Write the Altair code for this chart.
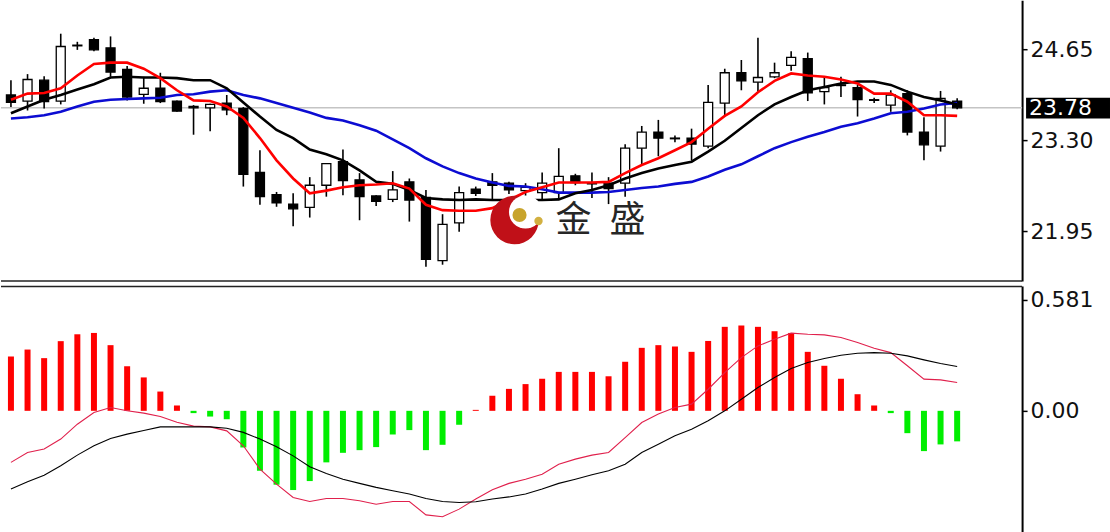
import altair as alt
import pandas as pd

# ---------------- daily candles ----------------
opens = [23.97, 23.88, 24.19, 23.88, 24.71, 24.79, 24.67, 24.35, 23.98, 24.07,
         23.88, 23.80, 23.78, 23.85, 23.77, 22.82, 22.49, 22.35, 22.30, 22.63,
         22.98, 22.71, 22.47, 22.42, 22.68, 22.45, 21.51, 22.07, 22.57, 22.68,
         22.66, 22.55, 22.52, 22.52, 22.77, 22.66, 22.66, 22.66, 23.18, 23.42,
         23.33, 23.33, 23.21, 23.85, 24.30, 24.16, 24.24, 24.41, 24.51, 24.02,
         24.12, 24.08, 23.90, 23.82, 23.99, 23.42, 23.21, 23.88]
highs = [24.19, 24.28, 24.25, 24.88, 24.76, 24.82, 24.84, 24.40, 24.24, 24.30,
         23.89, 23.82, 23.84, 23.97, 23.79, 23.15, 22.53, 22.51, 22.75, 22.96,
         23.16, 22.81, 22.48, 22.84, 22.73, 22.56, 22.20, 22.61, 22.61, 22.81,
         22.68, 22.66, 22.82, 23.18, 22.80, 22.82, 22.75, 23.24, 23.51, 23.60,
         23.37, 23.47, 24.12, 24.36, 24.49, 24.82, 24.45, 24.62, 24.60, 24.24,
         24.24, 24.12, 23.93, 24.04, 24.04, 23.64, 24.03, 23.92]
lows = [23.79, 23.74, 23.77, 23.83, 24.64, 24.62, 24.24, 23.89, 23.84, 23.85,
        23.72, 23.38, 23.43, 23.67, 22.61, 22.34, 22.31, 22.02, 22.15, 22.46,
        22.48, 22.11, 22.32, 22.38, 22.09, 21.42, 21.45, 21.94, 22.47, 22.41,
        22.50, 22.20, 22.41, 22.41, 22.63, 22.44, 22.35, 22.46, 22.94, 23.06,
        23.27, 23.00, 23.18, 23.65, 24.04, 24.02, 24.22, 24.33, 23.88, 23.83,
        23.94, 23.65, 23.85, 23.72, 23.37, 23.00, 23.13, 23.76]
closes = [23.86, 24.20, 23.87, 24.69, 24.70, 24.64, 24.31, 23.94, 24.07, 23.87,
          23.73, 23.78, 23.83, 23.75, 22.79, 22.46, 22.37, 22.28, 22.63, 22.95,
          22.70, 22.46, 22.39, 22.56, 22.41, 21.53, 22.05, 22.52, 22.51, 22.63,
          22.56, 22.60, 22.66, 22.76, 22.67, 22.65, 22.58, 23.18, 23.42, 23.33,
          23.32, 23.24, 23.86, 24.30, 24.18, 24.23, 24.30, 24.53, 24.00, 24.08,
          24.11, 23.90, 23.89, 23.97, 23.42, 23.23, 23.92, 23.78]

# ---------------- moving averages ----------------
ma_fast = [23.90, 23.99, 24.00, 24.07, 24.26, 24.43, 24.45, 24.45, 24.36, 24.22,
           24.04, 23.89, 23.88, 23.80, 23.63, 23.33, 23.00, 22.73, 22.51, 22.55,
           22.60, 22.63, 22.64, 22.66, 22.58, 22.34, 22.26, 22.25, 22.25, 22.29,
           22.41, 22.53, 22.60, 22.67, 22.67, 22.67, 22.68, 22.81, 22.93, 23.03,
           23.15, 23.27, 23.47, 23.66, 23.80, 24.01, 24.18, 24.29, 24.26, 24.24,
           24.20, 24.14, 23.99, 23.99, 23.87, 23.67, 23.67, 23.66]
ma_mid = [23.70, 23.80, 23.90, 23.97, 24.05, 24.13, 24.23, 24.24, 24.23, 24.23,
          24.22, 24.19, 24.19, 24.07, 23.86, 23.65, 23.45, 23.33, 23.16, 23.09,
          23.00, 22.85, 22.68, 22.65, 22.56, 22.44, 22.42, 22.41, 22.42, 22.41,
          22.41, 22.41, 22.41, 22.42, 22.51, 22.56, 22.63, 22.73, 22.81, 22.88,
          22.93, 22.98, 23.13, 23.29, 23.48, 23.67, 23.83, 23.94, 24.04, 24.09,
          24.14, 24.17, 24.17, 24.12, 24.02, 23.94, 23.89, 23.83]
ma_slow = [23.62, 23.64, 23.67, 23.72, 23.80, 23.87, 23.90, 23.91, 23.92, 23.93,
           23.97, 23.98, 24.02, 24.04, 23.97, 23.92, 23.85, 23.78, 23.71, 23.63,
           23.59, 23.52, 23.44, 23.31, 23.18, 23.03, 22.91, 22.81, 22.73, 22.67,
           22.62, 22.61, 22.57, 22.52, 22.52, 22.52, 22.53, 22.56, 22.59, 22.61,
           22.65, 22.68, 22.76, 22.86, 22.94, 23.06, 23.18, 23.27, 23.35, 23.42,
           23.50, 23.55, 23.62, 23.70, 23.72, 23.77, 23.83, 23.85]

# ---------------- MACD ----------------
macd_hist = [0.284, 0.321, 0.276, 0.365, 0.401, 0.408, 0.344, 0.234, 0.175, 0.101,
             0.028, -0.012, -0.030, -0.044, -0.192, -0.314, -0.387, -0.415, -0.368, -0.270,
             -0.220, -0.206, -0.190, -0.124, -0.101, -0.206, -0.178, -0.073, 0.005, 0.079,
             0.115, 0.140, 0.168, 0.204, 0.204, 0.204, 0.181, 0.257, 0.330, 0.344,
             0.337, 0.309, 0.366, 0.440, 0.447, 0.440, 0.417, 0.408, 0.309, 0.236,
             0.168, 0.087, 0.028, -0.012, -0.117, -0.211, -0.176, -0.160]
macd_dif = [-0.270, -0.218, -0.200, -0.148, -0.070, -0.009, 0.017, 0.000, -0.012, -0.030,
            -0.060, -0.080, -0.084, -0.105, -0.183, -0.305, -0.384, -0.454, -0.475, -0.459,
            -0.459, -0.471, -0.489, -0.475, -0.475, -0.545, -0.555, -0.515, -0.462, -0.414,
            -0.380, -0.358, -0.332, -0.280, -0.253, -0.232, -0.218, -0.140, -0.061, -0.017,
            0.017, 0.035, 0.113, 0.200, 0.279, 0.340, 0.375, 0.407, 0.401, 0.398,
            0.384, 0.358, 0.328, 0.305, 0.236, 0.166, 0.162, 0.148]
macd_dea = [-0.410, -0.372, -0.337, -0.288, -0.232, -0.183, -0.145, -0.122, -0.103, -0.084,
            -0.084, -0.084, -0.084, -0.091, -0.113, -0.148, -0.188, -0.236, -0.293, -0.328,
            -0.358, -0.380, -0.401, -0.419, -0.436, -0.459, -0.475, -0.480, -0.476, -0.462,
            -0.451, -0.436, -0.410, -0.380, -0.358, -0.335, -0.314, -0.280, -0.218, -0.175,
            -0.131, -0.096, -0.052, 0.000, 0.061, 0.122, 0.175, 0.222, 0.253, 0.274,
            0.291, 0.302, 0.305, 0.302, 0.288, 0.267, 0.248, 0.232]

price_ticks = [24.65, 23.30, 21.95]
macd_ticks = [0.581, 0.0]
brand = ["金", "盛"]

idx = list(range(len(closes)))
px = pd.DataFrame({"i": idx, "open": opens, "high": highs, "low": lows, "close": closes,
                   "ma_fast": ma_fast, "ma_mid": ma_mid, "ma_slow": ma_slow})
md = pd.DataFrame({"i": idx, "hist": macd_hist, "dif": macd_dif, "dea": macd_dea})
last = pd.DataFrame({"p": [closes[-1]]})

W, H1, H2 = 1022, 281, 248
LABEL_FONT = "DejaVu Sans"
LABEL_SIZE = 22

xs = alt.Scale(domain=[-0.298, 60.61], nice=False, zero=False)
X = alt.X("i:Q", scale=xs, axis=None)
ys = alt.Scale(domain=[21.208, 25.377], nice=False, zero=False)
ms = alt.Scale(domain=[-0.644, 0.654], nice=False, zero=False)


def right_axis(values, expr=None):
    kw = dict(orient="right", values=values, title=None, grid=False,
              domainColor="black", domainWidth=2, tickColor="black", tickSize=5,
              tickWidth=1.5, labelFont=LABEL_FONT, labelFontSize=LABEL_SIZE,
              labelColor="#111111", labelPadding=3, labelBaseline="middle")
    if expr:
        kw["labelExpr"] = expr
    else:
        kw["format"] = ".2f"
    return alt.Axis(**kw)


PAX = right_axis(price_ticks)
MAX = right_axis(macd_ticks, "datum.value == 0 ? '0.00' : format(datum.value, '.3f')")


def py(field):
    return alt.Y(f"{field}:Q", scale=ys, axis=PAX)


def my(field):
    return alt.Y(f"{field}:Q", scale=ms, axis=MAX)


# ---------- price panel ----------
price_line = alt.Chart(last).mark_rule(color="#c4c4c4", strokeWidth=1.5).encode(
    y=py("p"), x=alt.value(0), x2=alt.value(W))

wicks = alt.Chart(px).mark_rule(color="black", strokeWidth=1.6).encode(
    x=X, y=py("low"), y2="high:Q")

bodies = alt.Chart(px).mark_bar(size=9, stroke="black", strokeWidth=1.3).encode(
    x=X, y=py("open"), y2="close:Q",
    fill=alt.condition("datum.close > datum.open", alt.value("white"), alt.value("black")))


def ma(field, color):
    return alt.Chart(px).mark_line(color=color, strokeWidth=2.6).encode(x=X, y=py(field))


# watermark logo
logo_parts = pd.DataFrame({
    "cx": [514, 525, 519, 538],
    "cy": [220, 212, 215, 221],
    "area": [2350, 1100, 200, 70],
    "col": ["#c01018", "#ffffff", "#c8a42c", "#d2b040"],
    "k": [0, 1, 2, 3],
})
logo = alt.Chart(logo_parts).mark_circle(opacity=1).encode(
    x=alt.X("cx:Q", scale=None), y=alt.Y("cy:Q", scale=None),
    size=alt.Size("area:Q", scale=None),
    color=alt.Color("col:N", scale=None), order="k:Q")

brand_df = pd.DataFrame({"t": brand, "cx": [573, 627]})
brand_text = alt.Chart(brand_df).mark_text(
    font="Noto Sans CJK SC", fontSize=36, color="#262626",
    align="center", baseline="middle").encode(
    x=alt.X("cx:Q", scale=None), y=alt.value(221), text="t:N")

sep_top = alt.Chart(last).mark_rule(color="#222222", strokeWidth=1.5).encode(
    x=alt.value(0), x2=alt.value(W), y=alt.value(H1))

box = alt.Chart(last).transform_calculate(
    hi="datum.p + 0.15", lo="datum.p - 0.16").mark_rect(color="black").encode(
    x=alt.value(W + 4), x2=alt.value(1110), y=py("hi"), y2="lo:Q")
box_text = alt.Chart(last).mark_text(
    color="white", font=LABEL_FONT, fontSize=LABEL_SIZE, align="left",
    baseline="middle").encode(
    x=alt.value(W + 7), y=py("p"), text=alt.Text("p:Q", format=".2f"))

top = alt.layer(price_line, wicks, bodies, ma("ma_slow", "#0c0cd2"),
                ma("ma_mid", "black"), ma("ma_fast", "#ff0000"),
                logo, brand_text, sep_top, box, box_text).properties(width=W, height=H1)

# ---------- MACD panel ----------
bars = alt.Chart(md).mark_bar(size=6).encode(
    x=X, y=my("hist"), y2=alt.datum(0),
    color=alt.condition("datum.hist >= 0", alt.value("#ff0000"), alt.value("#00ee00")))

dif_line = alt.Chart(md).mark_line(color="#e0204c", strokeWidth=1.1).encode(x=X, y=my("dif"))
dea_line = alt.Chart(md).mark_line(color="black", strokeWidth=1.1).encode(x=X, y=my("dea"))
sep_bot = alt.Chart(last).mark_rule(color="#222222", strokeWidth=1.5).encode(
    x=alt.value(0), x2=alt.value(W), y=alt.value(0.5))

bottom = alt.layer(bars, dif_line, dea_line, sep_bot).properties(width=W, height=H2)

chart = alt.vconcat(top, bottom, spacing=3).properties(
    padding=0, background="white").configure_view(strokeWidth=0)

chart.save("out.html", embed_options={"renderer": "svg", "actions": False})
